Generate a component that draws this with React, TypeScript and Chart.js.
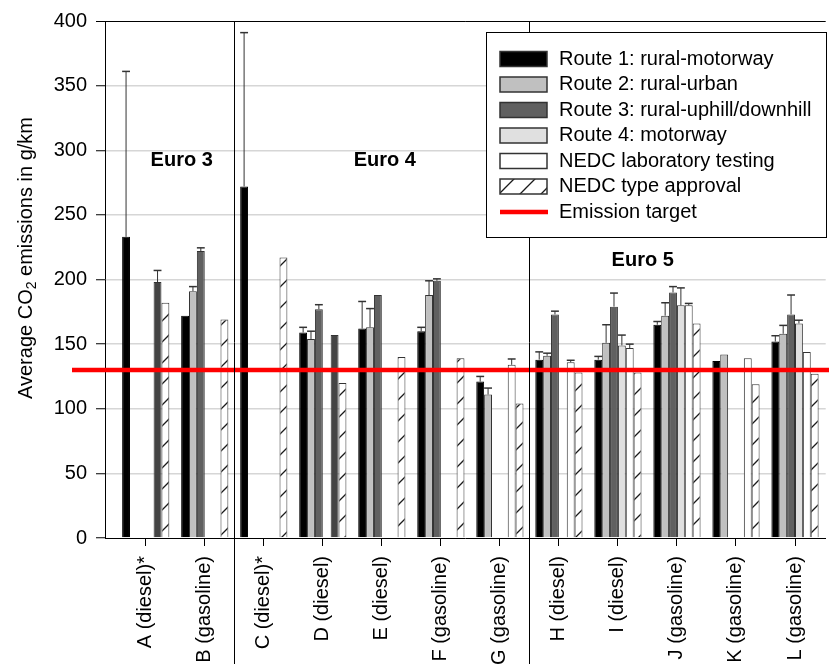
import React, { useEffect, useRef } from 'react';
import { Chart, registerables } from 'chart.js';

Chart.register(...registerables);

const FONT = "'Liberation Sans', Arial, sans-serif";

// Vehicles on the x axis
const CATEGORIES = [
  'A (diesel)*', 'B (gasoline)', 'C (diesel)*', 'D (diesel)', 'E (diesel)', 'F (gasoline)',
  'G (gasoline)', 'H (diesel)', 'I (diesel)', 'J (gasoline)', 'K (gasoline)', 'L (gasoline)',
];

// Mean CO2 emissions (g/km) and upper error (g/km) per route / test
const ROUTE1 = [233, 172, 272, 159, 162, 160, 121, 138, 138, 165, 137, 152];
const ROUTE1_ERR = [128, null, 119, 4, 21, 3, 4, 6, 2.5, 2.5, null, 4.5];
const ROUTE2 = [null, 191, null, 154, 163, 188, 111, 141, 151, 172, 142, 158];
const ROUTE2_ERR = [null, 3.5, null, 6, 14.5, 11, 5, 2, 14, 10, null, 6.5];
const ROUTE3 = [null, 222, null, 177, 188, 199, null, 173, 179, 190, null, 173];
const ROUTE3_ERR = [null, 2.5, null, 3.5, null, 1.5, null, 2.5, 10.5, 4.5, null, 15];
const ROUTE4 = [null, null, null, null, null, null, null, null, 149, 180, null, 166];
const ROUTE4_ERR = [null, null, null, null, null, null, null, null, 8, 13.5, null, 2.5];
const NEDC_LAB = [198, null, null, 157, null, null, 134, 136, 147, 180, 139, 144];
const NEDC_LAB_ERR = [9, null, null, null, null, null, 4.5, 1.5, 3, 1.5, null, null];
const NEDC_TA = [182, 169, 217, 120, 140, 139, 104, 128, 128, 166, 119, 127];

const EMISSION_TARGET = 130;
const Y_TICKS = { min: 0, max: 400, step: 50 };

// Emission-standard group captions (category index, value)
const EURO_LABELS = [
  { text: 'Euro 3', x: 0.61, y: 292 },
  { text: 'Euro 4', x: 4.05, y: 292 },
  { text: 'Euro 5', x: 8.42, y: 215 },
];
// Boundaries between the emission-standard groups (between categories)
const GROUP_BOUNDS = [1.5, 6.5];

const toXY = (vals: (number | null)[]) => vals.map((v, i) => ({ x: i, y: v }));

function makeHatch(): CanvasPattern | string {
  const s = 21;
  const c = document.createElement('canvas');
  c.width = s;
  c.height = s;
  const g = c.getContext('2d');
  if (!g) return '#fff';
  g.fillStyle = '#ffffff';
  g.fillRect(0, 0, s, s);
  g.strokeStyle = '#1a1a1a';
  g.lineWidth = 1.3;
  g.beginPath();
  g.moveTo(0, s);
  g.lineTo(s, 0);
  g.moveTo(-2, 2);
  g.lineTo(2, -2);
  g.moveTo(s - 2, s + 2);
  g.lineTo(s + 2, s - 2);
  g.stroke();
  return g.createPattern(c, 'repeat') || '#fff';
}

export default function App() {
  const ref = useRef<HTMLCanvasElement | null>(null);

  useEffect(() => {
    const canvas = ref.current;
    if (!canvas) return;
    const hatch = makeHatch();
    const labFill = CATEGORIES.map((_, i) => (i === 0 || i === 3 ? '#444444' : '#ffffff'));

    const datasets: any[] = [
      { label: 'Route 1: rural-motorway', data: toXY(ROUTE1), errors: ROUTE1_ERR, backgroundColor: '#000000', borderColor: '#000000', swatch: '#000000' },
      { label: 'Route 2: rural-urban', data: toXY(ROUTE2), errors: ROUTE2_ERR, backgroundColor: '#c0c0c0', borderColor: '#333', swatch: '#c0c0c0' },
      { label: 'Route 3: rural-uphill/downhill', data: toXY(ROUTE3), errors: ROUTE3_ERR, backgroundColor: '#606060', borderColor: '#333', swatch: '#606060' },
      { label: 'Route 4: motorway', data: toXY(ROUTE4), errors: ROUTE4_ERR, backgroundColor: '#e0e0e0', borderColor: '#333', swatch: '#e0e0e0' },
      { label: 'NEDC laboratory testing', data: toXY(NEDC_LAB), errors: NEDC_LAB_ERR, backgroundColor: labFill, borderColor: '#333', swatch: '#ffffff' },
      { label: 'NEDC type approval', data: toXY(NEDC_TA), errors: null, backgroundColor: hatch, borderColor: '#333', swatch: hatch },
    ];

    const overlay = {
      id: 'overlay',
      afterDatasetsDraw(chart: any) {
        const ctx = chart.ctx;
        const y = chart.scales.y;
        const area = chart.chartArea;
        // error bars (upper half)
        ctx.save();
        ctx.strokeStyle = '#333';
        chart.data.datasets.forEach((ds: any, di: number) => {
          if (!ds.errors) return;
          const meta = chart.getDatasetMeta(di);
          meta.data.forEach((el: any, i: number) => {
            const v = ds.data[i].y;
            const e = ds.errors[i];
            if (v == null || e == null) return;
            const top = y.getPixelForValue(v + e);
            const half = el.width / 2;
            ctx.lineWidth = 1;
            ctx.beginPath();
            ctx.moveTo(el.x, el.y);
            ctx.lineTo(el.x, top);
            ctx.stroke();
            ctx.lineWidth = 1.5;
            ctx.beginPath();
            ctx.moveTo(el.x - half, top);
            ctx.lineTo(el.x + half, top);
            ctx.stroke();
          });
        });
        // emission target line
        const ty = y.getPixelForValue(EMISSION_TARGET);
        ctx.strokeStyle = '#ff0000';
        ctx.lineWidth = 4.5;
        ctx.beginPath();
        ctx.moveTo(area.left - 33, ty);
        ctx.lineTo(chart.width, ty);
        ctx.stroke();
        ctx.restore();
      },
      afterDraw(chart: any) {
        const ctx = chart.ctx;
        const xs = chart.scales.x;
        const ys = chart.scales.y;
        const area = chart.chartArea;
        ctx.save();
        // group separators
        ctx.strokeStyle = '#000';
        ctx.lineWidth = 1;
        GROUP_BOUNDS.forEach((b) => {
          const px = Math.round(xs.getPixelForValue(b)) + 0.5;
          ctx.beginPath();
          ctx.moveTo(px, area.top);
          ctx.lineTo(px, chart.height);
          ctx.stroke();
        });
        // group captions
        ctx.fillStyle = '#000';
        ctx.font = `bold 20px ${FONT}`;
        ctx.textAlign = 'center';
        ctx.textBaseline = 'middle';
        EURO_LABELS.forEach((l) => {
          ctx.fillText(l.text, xs.getPixelForValue(l.x), ys.getPixelForValue(l.y));
        });
        // legend
        const box = { x: 486.5, y: 32.5, w: 340, h: 205 };
        ctx.fillStyle = '#fff';
        ctx.fillRect(box.x, box.y, box.w, box.h);
        ctx.strokeStyle = '#000';
        ctx.lineWidth = 1;
        ctx.strokeRect(box.x, box.y, box.w, box.h);
        const rowY0 = 59;
        const rowStep = 25.5;
        ctx.font = `20px ${FONT}`;
        ctx.textAlign = 'left';
        ctx.textBaseline = 'middle';
        chart.data.datasets.forEach((ds: any, i: number) => {
          const cy = rowY0 + i * rowStep;
          ctx.fillStyle = ds.swatch;
          ctx.fillRect(500, cy - 7.5, 47, 15);
          ctx.strokeStyle = '#333';
          ctx.lineWidth = 1.5;
          ctx.strokeRect(500, cy - 7.5, 47, 15);
          ctx.fillStyle = '#000';
          ctx.fillText(ds.label, 559, cy);
        });
        const ly = rowY0 + chart.data.datasets.length * rowStep;
        ctx.strokeStyle = '#ff0000';
        ctx.lineWidth = 4.5;
        ctx.beginPath();
        ctx.moveTo(500, ly);
        ctx.lineTo(548, ly);
        ctx.stroke();
        ctx.fillStyle = '#000';
        ctx.fillText('Emission target', 559, ly);
        // y axis title with subscript
        ctx.translate(26, 258);
        ctx.rotate(-Math.PI / 2);
        const big = `20px ${FONT}`;
        const small = `14px ${FONT}`;
        const p1 = 'Average CO';
        const p2 = '2';
        const p3 = ' emissions in g/km';
        ctx.font = big;
        const w1 = ctx.measureText(p1).width;
        const w3 = ctx.measureText(p3).width;
        ctx.font = small;
        const w2 = ctx.measureText(p2).width;
        let x0 = -(w1 + w2 + w3) / 2;
        ctx.fillStyle = '#000';
        ctx.textAlign = 'left';
        ctx.font = big;
        ctx.fillText(p1, x0, 0);
        x0 += w1;
        ctx.font = small;
        ctx.fillText(p2, x0, 6);
        x0 += w2;
        ctx.font = big;
        ctx.fillText(p3, x0, 0);
        ctx.restore();
      },
    };

    const chart = new Chart(canvas, {
      type: 'bar',
      data: { datasets },
      options: {
        animation: false,
        responsive: true,
        maintainAspectRatio: false,
        layout: { padding: { top: 21, left: 0, right: 0, bottom: 0 } },
        datasets: { bar: { categoryPercentage: 0.8, barPercentage: 1.0, borderWidth: 1 } },
        plugins: { legend: { display: false }, tooltip: { enabled: false } },
        scales: {
          x: {
            type: 'linear',
            min: -0.69,
            max: 11.52,
            offset: false,
            afterBuildTicks: (s: any) => {
              s.ticks = CATEGORIES.map((_, i) => ({ value: i }));
            },
            afterFit: (s: any) => {
              s.height = 126;
            },
            ticks: {
              autoSkip: false,
              minRotation: 90,
              maxRotation: 90,
              padding: 10,
              color: '#000',
              font: { family: FONT, size: 20 },
              callback: (v: any) => CATEGORIES[v] ?? '',
            },
            grid: { display: true, offset: false, drawOnChartArea: false, drawTicks: true, tickLength: 8, tickColor: '#000', tickWidth: 1 },
            border: { display: true, color: '#000', width: 1 },
          },
          y: {
            min: Y_TICKS.min,
            max: Y_TICKS.max,
            afterFit: (s: any) => {
              s.width = 105;
            },
            ticks: { stepSize: Y_TICKS.step, padding: 9, color: '#000', font: { family: FONT, size: 20 } },
            grid: {
              color: (c: any) => {
                const v = c.tick ? c.tick.value : null;
                if (v === Y_TICKS.max) return '#000';
                if (v === Y_TICKS.min) return 'rgba(0,0,0,0)';
                return '#d6d6d6';
              },
              lineWidth: (c: any) => (c.tick && c.tick.value === Y_TICKS.max ? 1 : 1.5),
              tickColor: '#000',
              tickWidth: 1,
              tickLength: 9,
            },
            border: { display: true, color: '#000', width: 1 },
          },
        },
      } as any,
      plugins: [overlay],
    });

    return () => chart.destroy();
  }, []);

  return (
    <div style={{ position: 'fixed', left: 0, top: 0, width: 829, height: 664, background: '#fff' }}>
      <canvas ref={ref} />
    </div>
  );
}
